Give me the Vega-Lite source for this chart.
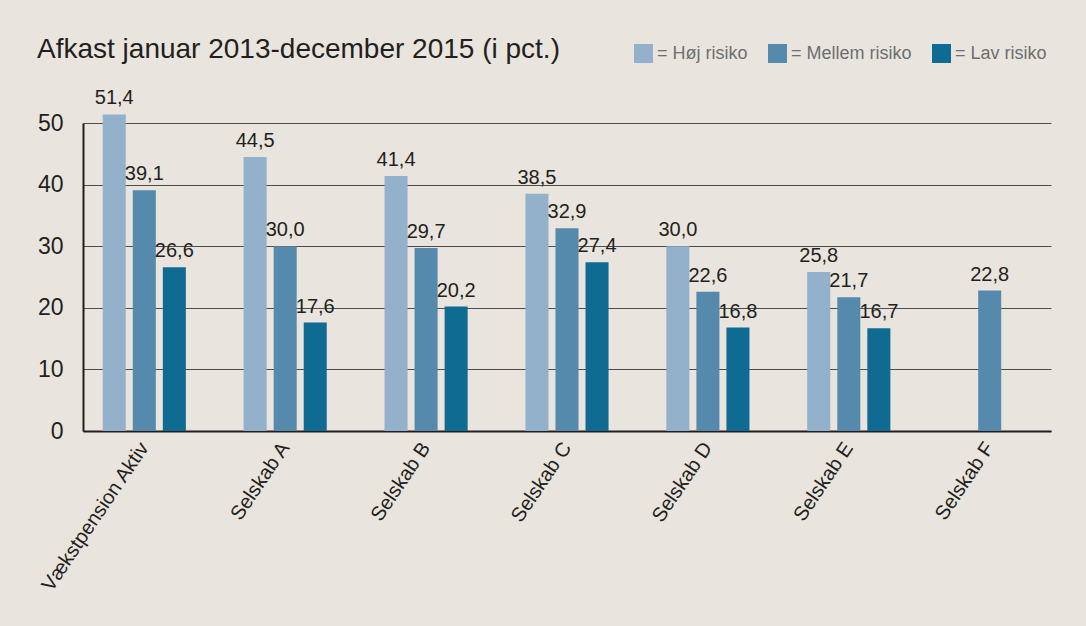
{
  "$schema": "https://vega.github.io/schema/vega-lite/v6.json",
  "width": 968,
  "height": 308,
  "autosize": "none",
  "padding": {"left": 83, "top": 123, "right": 35, "bottom": 195},
  "background": "#e9e5de",
  "config": {
    "locale": {"number": {"decimal": ",", "thousands": ".", "grouping": [3], "currency": ["", " kr."]}},
    "view": {"stroke": null},
    "font": "Liberation Sans"
  },
  "title": {
    "text": "Afkast januar 2013-december 2015 (i pct.)",
    "anchor": "start",
    "frame": "group",
    "dx": -46,
    "fontSize": 28,
    "fontWeight": "normal",
    "color": "#231f20",
    "font": "Liberation Sans",
    "baseline": "bottom",
    "offset": -48
  },
  "data": {
    "values": [
      {"selskab": "Vækstpension Aktiv", "risiko": "Høj risiko", "afkast": 51.4},
      {"selskab": "Vækstpension Aktiv", "risiko": "Mellem risiko", "afkast": 39.1},
      {"selskab": "Vækstpension Aktiv", "risiko": "Lav risiko", "afkast": 26.6},
      {"selskab": "Selskab A", "risiko": "Høj risiko", "afkast": 44.5},
      {"selskab": "Selskab A", "risiko": "Mellem risiko", "afkast": 30.0},
      {"selskab": "Selskab A", "risiko": "Lav risiko", "afkast": 17.6},
      {"selskab": "Selskab B", "risiko": "Høj risiko", "afkast": 41.4},
      {"selskab": "Selskab B", "risiko": "Mellem risiko", "afkast": 29.7},
      {"selskab": "Selskab B", "risiko": "Lav risiko", "afkast": 20.2},
      {"selskab": "Selskab C", "risiko": "Høj risiko", "afkast": 38.5},
      {"selskab": "Selskab C", "risiko": "Mellem risiko", "afkast": 32.9},
      {"selskab": "Selskab C", "risiko": "Lav risiko", "afkast": 27.4},
      {"selskab": "Selskab D", "risiko": "Høj risiko", "afkast": 30.0},
      {"selskab": "Selskab D", "risiko": "Mellem risiko", "afkast": 22.6},
      {"selskab": "Selskab D", "risiko": "Lav risiko", "afkast": 16.8},
      {"selskab": "Selskab E", "risiko": "Høj risiko", "afkast": 25.8},
      {"selskab": "Selskab E", "risiko": "Mellem risiko", "afkast": 21.7},
      {"selskab": "Selskab E", "risiko": "Lav risiko", "afkast": 16.7},
      {"selskab": "Selskab F", "risiko": "Mellem risiko", "afkast": 22.8}
    ]
  },
  "encoding": {
    "x": {
      "field": "selskab",
      "type": "nominal",
      "sort": null,
      "scale": {"paddingInner": 0.41, "paddingOuter": 0.14},
      "axis": {
        "title": null,
        "labelAngle": -56,
        "labelAlign": "right",
        "labelBaseline": "middle",
        "labelFontSize": 20,
        "labelColor": "#231f20",
        "labelPadding": 13,
        "ticks": false,
        "tickSize": 0,
        "domainColor": "#231f20",
        "domainWidth": 2,
        "labelFont": "Liberation Sans"
      }
    },
    "xOffset": {
      "field": "risiko",
      "type": "nominal",
      "sort": ["Høj risiko", "Mellem risiko", "Lav risiko"],
      "scale": {"paddingInner": 0.233, "paddingOuter": 0}
    },
    "y": {
      "field": "afkast",
      "type": "quantitative",
      "scale": {"domain": [0, 50], "nice": false},
      "axis": {
        "title": null,
        "values": [0, 10, 20, 30, 40, 50],
        "ticks": false,
        "tickSize": 0,
        "labelPadding": 20,
        "labelFontSize": 23,
        "labelColor": "#231f20",
        "labelFont": "Liberation Sans",
        "grid": true,
        "gridColor": "#4d4d4d",
        "gridWidth": 1,
        "domainColor": "#231f20",
        "domainWidth": 2
      }
    }
  },
  "layer": [
    {
      "mark": {"type": "bar"},
      "encoding": {
        "color": {
          "field": "risiko",
          "type": "nominal",
          "scale": {
            "domain": ["Høj risiko", "Mellem risiko", "Lav risiko"],
            "range": ["#93b1cb", "#558aad", "#106b92"]
          },
          "legend": {
            "orient": "none",
            "legendX": 551,
            "legendY": -79,
            "direction": "horizontal",
            "title": null,
            "symbolType": "square",
            "symbolSize": 361,
            "symbolStrokeWidth": 0,
            "symbolOpacity": 1,
            "labelFontSize": 18,
            "labelFont": "Liberation Sans",
            "labelColor": "#6d6e71",
            "labelOffset": 4,
            "columnPadding": 20,
            "padding": 0,
            "labelExpr": "'= ' + datum.label"
          }
        }
      }
    },
    {
      "mark": {"type": "text", "baseline": "bottom", "dy": -6, "fontSize": 20, "color": "#231f20", "font": "Liberation Sans"},
      "encoding": {
        "text": {"field": "afkast", "type": "quantitative", "format": ".1f"}
      }
    }
  ]
}
